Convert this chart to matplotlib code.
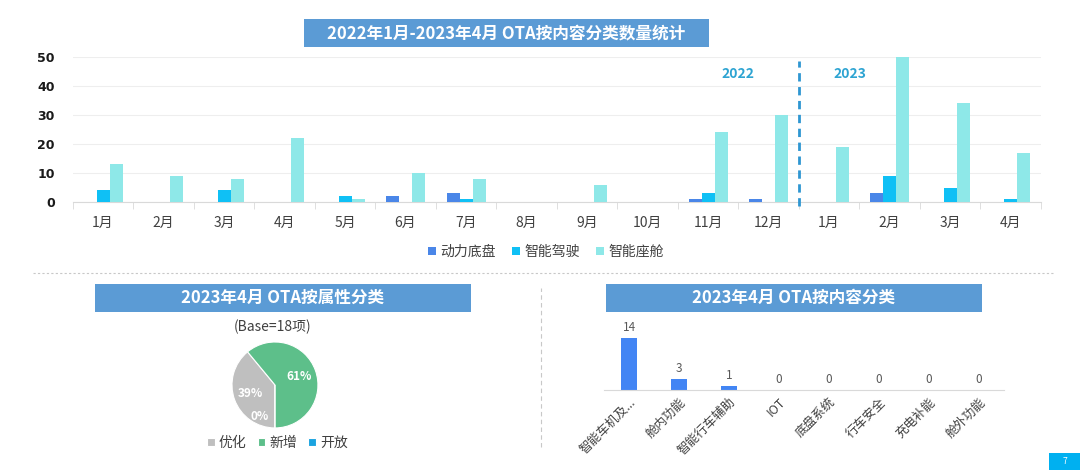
import numpy as np
import matplotlib
matplotlib.use('Agg')
import matplotlib.pyplot as plt
from matplotlib.patches import Rectangle
from matplotlib.lines import Line2D

plt.rcParams['font.family'] = ['Noto Sans CJK SC', 'DejaVu Sans']

# top chart data
months = ['1月', '2月', '3月', '4月', '5月', '6月', '7月', '8月', '9月', '10月', '11月', '12月',
          '1月', '2月', '3月', '4月']
power = [0, 0, 0, 0, 0, 2, 3, 0, 0, 0, 1, 1, 0, 3, 0, 0]
drive = [4, 0, 4, 0, 2, 0, 1, 0, 0, 0, 3, 0, 0, 9, 5, 1]
cabin = [13, 9, 8, 22, 1, 10, 8, 0, 6, 0, 24, 30, 19, 50, 34, 17]
series_names = ['动力底盘', '智能驾驶', '智能座舱']

# pie data
pie_labels = ['优化', '新增', '开放']
pie_values = [39, 61, 0]

# content bar data
content_cats = ['智能车机及...', '舱内功能', '智能行车辅助', 'IOT', '底盘系统', '行车安全', '充电补能', '舱外功能']
content_vals = [14, 3, 1, 0, 0, 0, 0, 0]

c_power = '#4a86e8'
c_drive = '#0fc0f5'
c_cabin = '#8ee8e8'
c_title = '#5b9bd5'
c_green = '#5dbf8a'
c_grey = '#bfbfbf'
c_open = '#1aa3e0'

fig = plt.figure(figsize=(10.8, 4.7), dpi=100)


def title_box(x0, y0, w, h, text):
    fig.patches.append(Rectangle((x0, y0), w, h, transform=fig.transFigure,
                                 facecolor=c_title, edgecolor='none'))
    fig.text(x0 + w / 2, y0 + h / 2, text, ha='center', va='center',
             color='white', fontsize=12, fontweight='bold')


title_box(0.2815, 0.900, 0.375, 0.0596, '2022年1月-2023年4月 OTA按内容分类数量统计')
title_box(0.088, 0.3362, 0.348, 0.0596, '2023年4月 OTA按属性分类')
title_box(0.5611, 0.3362, 0.348, 0.0596, '2023年4月 OTA按内容分类')

# ---- top grouped bars
ax = fig.add_axes([0.0674, 0.5702, 0.8963, 0.3085])
x = np.arange(len(months))
w = 0.215
ax.bar(x - w, power, w, color=c_power, label=series_names[0], zorder=3)
ax.bar(x, drive, w, color=c_drive, label=series_names[1], zorder=3)
ax.bar(x + w, cabin, w, color=c_cabin, label=series_names[2], zorder=3)
ax.set_xlim(-0.5, len(months) - 0.5)
ax.set_ylim(0, 50)
ax.set_yticks([0, 10, 20, 30, 40, 50])
ax.yaxis.grid(True, color='#eeeeee', lw=0.8, zorder=0)
ax.set_xticks(x)
ax.set_xticklabels(months, fontsize=10, color='#404040')
ax.set_xticks(np.arange(-0.5, len(months)), minor=True)
ax.tick_params(axis='x', which='major', length=0, pad=10)
ax.tick_params(axis='x', which='minor', length=5, color='#d9d9d9')
ax.tick_params(axis='y', length=0, pad=13, labelsize=9, labelcolor='#1a1a1a')
for lab in ax.get_yticklabels():
    lab.set_fontweight('bold')
    lab.set_family('DejaVu Sans')
for s in ['top', 'right', 'left']:
    ax.spines[s].set_visible(False)
ax.spines['bottom'].set_color('#d9d9d9')
ax.plot([11.5, 11.5], [-1.5, 48.5], color='#2e96d2', lw=2, ls=(0, (3, 2)),
        clip_on=False, zorder=4)
ax.text(10.5, 44.3, '2022', ha='center', va='center', color='#2ea4d2',
        fontsize=10, fontweight='bold')
ax.text(12.35, 44.3, '2023', ha='center', va='center', color='#2ea4d2',
        fontsize=10, fontweight='bold')
fig.legend(*ax.get_legend_handles_labels(), loc='center', bbox_to_anchor=(0.5056, 0.4638),
           ncol=3, frameon=False, fontsize=10, handlelength=0.55, handleheight=0.55,
           handletextpad=0.3, columnspacing=1.2, labelcolor='#404040')

# ---- separators
fig.add_artist(Line2D([0.031, 0.975], [0.419, 0.419], transform=fig.transFigure,
                      color='#c8c8c8', lw=0.8, ls=(0, (2, 2))))
fig.add_artist(Line2D([0.501, 0.501], [0.049, 0.387], transform=fig.transFigure,
                      color='#c8c8c8', lw=0.8, ls=(0, (4, 3))))

# ---- pie
fig.text(0.2528, 0.3043, '(Base=18项)', ha='center', va='center', fontsize=10, color='#404040')
axp = fig.add_axes([0.2148, 0.0894, 0.0796, 0.183])
wedges, texts, autotexts = axp.pie(pie_values, colors=[c_grey, c_green, c_open],
                                   startangle=-90, counterclock=False,
                                   autopct='%d%%', pctdistance=0.6,
                                   wedgeprops=dict(edgecolor='white', lw=0.8),
                                   textprops=dict(color='white', fontsize=8.5,
                                                  fontweight='bold'))
autotexts[2].set_position((-0.35, -0.74))
axp.set_xlim(-1, 1)
axp.set_ylim(-1, 1)
fig.legend(wedges, pie_labels, loc='center', bbox_to_anchor=(0.257, 0.0574), ncol=3,
           frameon=False, fontsize=10, handlelength=0.55, handleheight=0.55,
           handletextpad=0.3, columnspacing=0.8, labelcolor='#404040')

# ---- content bars
axb = fig.add_axes([0.5593, 0.1702, 0.3704, 0.1264])
xb = np.arange(len(content_cats))
bars = axb.bar(xb, content_vals, 0.32, color='#4285f4')
for b, v in zip(bars, content_vals):
    axb.annotate(str(v), (b.get_x() + b.get_width() / 2, v), xytext=(0, 3),
                 textcoords='offset points', ha='center', va='bottom',
                 fontsize=8.5, color='#595959')
axb.set_xlim(-0.5, len(content_cats) - 0.5)
axb.set_ylim(0, 16)
axb.set_yticks([])
axb.set_xticks(xb)
axb.set_xticklabels(content_cats, rotation=45, ha='right', rotation_mode='anchor',
                    fontsize=9, color='#404040')
axb.tick_params(axis='x', length=0, pad=4)
for s in ['top', 'right', 'left']:
    axb.spines[s].set_visible(False)
axb.spines['bottom'].set_color('#d9d9d9')

# page number
fig.patches.append(Rectangle((0.9713, 0.0), 0.0287, 0.0362, transform=fig.transFigure,
                             facecolor='#00b0f0', edgecolor='none'))
fig.text(0.9856, 0.018, '7', ha='center', va='center', color='white', fontsize=6)

fig.savefig('out.png', dpi=100)
